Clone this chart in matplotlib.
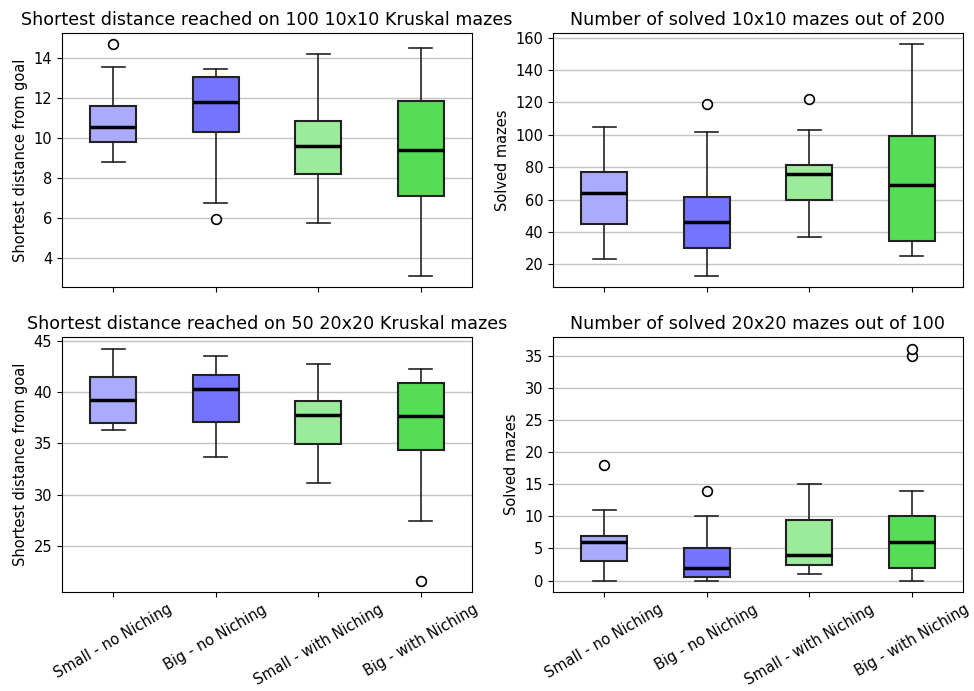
import matplotlib
matplotlib.use("Agg")
import matplotlib.pyplot as plt

categories = ["Small - no Niching", "Big - no Niching", "Small - with Niching", "Big - with Niching"]
colors = ["#aaaaff", "#7474ff", "#9ceb9b", "#55dd55"]

titles = ["Shortest distance reached on 100 10x10 Kruskal mazes",
          "Number of solved 10x10 mazes out of 200",
          "Shortest distance reached on 50 20x20 Kruskal mazes",
          "Number of solved 20x20 mazes out of 100"]
ylabels = ["Shortest distance from goal", "Solved mazes",
           "Shortest distance from goal", "Solved mazes"]

# per panel: [whislo, q1, med, q3, whishi] for each category, plus outliers
dist10_stats = [[8.79, 9.83, 10.55, 11.62, 13.56],
                [6.76, 10.33, 11.82, 13.05, 13.45],
                [5.76, 8.22, 9.59, 10.85, 14.2],
                [3.11, 7.10, 9.43, 11.87, 14.5]]
dist10_fliers = [[14.7], [5.94], [], []]

solved10_stats = [[23, 44.6, 64, 77, 105],
                  [13, 30, 46, 61.5, 102],
                  [37, 60, 76, 81.5, 103],
                  [25, 34.5, 69, 99.5, 156]]
solved10_fliers = [[], [119], [122], []]

dist20_stats = [[36.3, 37.02, 39.23, 41.42, 44.19],
                [33.7, 37.09, 40.28, 41.61, 43.47],
                [31.09, 34.97, 37.8, 39.1, 42.69],
                [27.38, 34.32, 37.64, 40.9, 42.23]]
dist20_fliers = [[], [], [], [21.6]]

solved20_stats = [[0, 3, 6, 7, 11],
                  [0, 0.5, 2, 5, 10],
                  [1, 2.5, 4, 9.5, 15],
                  [0, 2, 6, 10, 14]]
solved20_fliers = [[18], [14], [], [35, 36]]

panels = [(dist10_stats, dist10_fliers, (2.54, 15.27), [4, 6, 8, 10, 12, 14]),
          (solved10_stats, solved10_fliers, (5.96, 162.9), [20, 40, 60, 80, 100, 120, 140, 160]),
          (dist20_stats, dist20_fliers, (20.5, 45.36), [25, 30, 35, 40, 45]),
          (solved20_stats, solved20_fliers, (-1.77, 37.9), [0, 5, 10, 15, 20, 25, 30, 35])]

fig = plt.figure(figsize=(9.74, 6.91), dpi=100)
W, H = 974, 691
rects = [(62, 33, 472, 287), (553, 33, 963, 287), (62, 337, 472, 592), (553, 337, 963, 592)]

for i, ((stats, fliers, ylim, yticks), (x0, y0, x1, y1)) in enumerate(zip(panels, rects)):
    ax = fig.add_axes([x0 / W, 1 - y1 / H, (x1 - x0) / W, (y1 - y0) / H])
    bx = []
    for cat, s, f in zip(categories, stats, fliers):
        bx.append(dict(label=cat, whislo=s[0], q1=s[1], med=s[2], q3=s[3], whishi=s[4], fliers=f))
    bp = ax.bxp(bx, positions=[1, 2, 3, 4], widths=0.45, patch_artist=True,
                boxprops=dict(edgecolor="#222222", linewidth=1.5),
                medianprops=dict(color="black", linewidth=2.5),
                whiskerprops=dict(color="#222222", linewidth=1.2),
                capprops=dict(color="#222222", linewidth=1.2),
                flierprops=dict(marker="o", markerfacecolor="white", markeredgecolor="black",
                                markersize=7, markeredgewidth=1.2))
    for patch, c in zip(bp["boxes"], colors):
        patch.set_facecolor(c)
    ax.set_xlim(0.5, 4.5)
    ax.set_ylim(*ylim)
    ax.set_yticks(yticks)
    ax.yaxis.grid(True, color="#c4c4c4", linewidth=1)
    ax.set_axisbelow(True)
    ax.set_title(titles[i], fontsize=12.6)
    ax.set_ylabel(ylabels[i], fontsize=10.5)
    ax.tick_params(labelsize=10.5)
    if i < 2:
        ax.set_xticklabels([])
    else:
        ax.set_xticklabels(categories, rotation=30, fontsize=10.5)

fig.savefig("out.png", dpi=100)
